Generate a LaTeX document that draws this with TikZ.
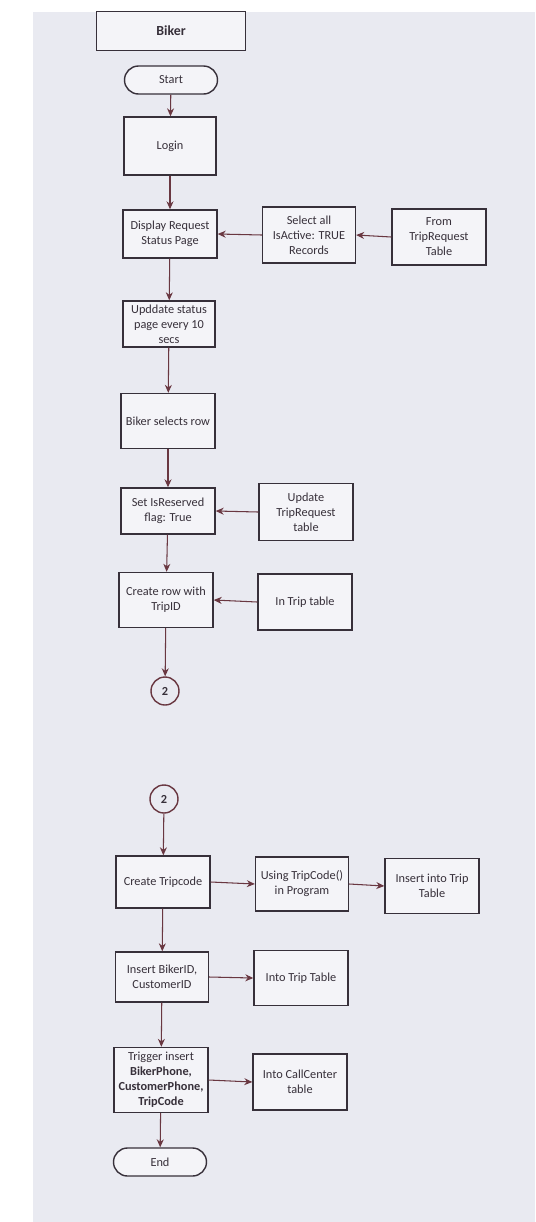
\documentclass[tikz,border=0pt]{standalone}
\usepackage{fontspec}
\setmainfont{Carlito}
\usepackage{xcolor}
\usetikzlibrary{arrows.meta, positioning, shapes.geometric, calc}
\definecolor{paper}{RGB}{233, 234, 241}
\definecolor{inkdark}{RGB}{55, 48, 58}
\definecolor{inkred}{RGB}{105, 55, 65}

\begin{document}
\begin{tikzpicture}[
  every node/.style={font=\fontsize{7}{8.5}\selectfont, text=inkdark},
  box/.style={
    draw=inkdark, fill=paper!50!white, line width=0.8pt,
    minimum width=1.88cm, minimum height=1.1cm,
    align=center, inner sep=1pt
  },
  term/.style={
    draw=inkdark, fill=paper!50!white, line width=0.8pt,
    minimum width=1.86cm, minimum height=0.56cm,
    rounded corners=0.28cm, align=center, inner sep=1pt
  },
  conn/.style={
    circle, draw=inkred, line width=0.8pt, minimum size=0.56cm,
    inner sep=0pt, font=\fontsize{7}{8.5}\selectfont\bfseries
  },
  arrow/.style={-{Stealth[length=1.6mm, width=1.4mm]}, line width=0.6pt, color=inkred}
]

  % Foglio
  \useasboundingbox (0,0) rectangle (10.7,-24.44);
  \fill[paper] (0.66,-0.24) rectangle (10.7,-24.44);

  % Prima pagina - colonna principale
  \node[box, minimum width=2.98cm, minimum height=0.78cm, font=\fontsize{7.9}{9}\selectfont\bfseries] (biker) at (3.42,-0.62) {Biker};
  \node[term] (start) at (3.42,-1.60) {Start};
  \node[box, minimum width=1.84cm, minimum height=1.16cm] (login) at (3.40,-2.92) {Login};
  \node[box, minimum height=0.96cm] (disp) at (3.40,-4.68) {Display Request\\Status Page};
  \node[box, minimum width=1.84cm, minimum height=0.92cm] (upd) at (3.38,-6.48) {Upddate status\\page every 10\\secs};
  \node[box] (row) at (3.36,-8.42) {Biker selects row};
  \node[box, minimum height=0.92cm] (res) at (3.36,-10.22) {Set IsReserved\\flag: True};
  \node[box] (crow) at (3.32,-12.00) {Create row with\\TripID};
  \node[conn] (twoa) at (3.30,-13.82) {2};

  % Prima pagina - tabelle
  \node[box, minimum width=1.86cm, minimum height=1.12cm] (sel) at (6.18,-4.70) {Select all\\IsActive: TRUE\\Records};
  \node[box, minimum height=1.12cm] (from) at (8.78,-4.74) {From\\TripRequest\\Table};
  \node[box, minimum height=1.14cm] (updtr) at (6.12,-10.24) {Update\\TripRequest\\table};
  \node[box, minimum height=1.12cm] (intrip) at (6.10,-12.04) {In Trip table};

  % Seconda pagina
  \node[conn] (twob) at (3.28,-15.98) {2};
  \node[box, minimum height=1.04cm] (tcode) at (3.26,-17.64) {Create Tripcode};
  \node[box, minimum width=1.86cm, minimum height=1.08cm] (using) at (6.04,-17.68) {Using TripCode()\\in Program};
  \node[box] (ins) at (8.64,-17.72) {Insert into Trip\\Table};
  \node[box, minimum width=1.86cm, minimum height=1.00cm] (bid) at (3.24,-19.54) {Insert BikerID,\\CustomerID};
  \node[box] (intrip2) at (6.02,-19.56) {Into Trip Table};
  \node[box, minimum height=1.30cm] (trig) at (3.22,-21.60) {Trigger insert\\\textbf{BikerPhone,}\\\textbf{CustomerPhone,}\\\textbf{TripCode}};
  \node[box, minimum height=1.12cm] (callc) at (6.00,-21.64) {Into CallCenter\\table};
  \node[term] (end) at (3.20,-23.24) {End};

  % Frecce
  \draw[arrow] (start) -- (login);
  \draw[arrow] (login) -- (disp);
  \draw[arrow] (from.west) -- (sel.east);
  \draw[arrow] (sel.west) -- (disp.east);
  \draw[arrow] (disp) -- (upd);
  \draw[arrow] (upd) -- (row);
  \draw[arrow] (row) -- (res);
  \draw[arrow] (updtr.west) -- (res.east);
  \draw[arrow] (res) -- (crow);
  \draw[arrow] (intrip.west) -- (crow.east);
  \draw[arrow] (crow) -- (twoa);

  \draw[arrow] (twob) -- (tcode);
  \draw[arrow] (tcode.east) -- (using.west);
  \draw[arrow] (using.east) -- (ins.west);
  \draw[arrow] (tcode) -- (bid);
  \draw[arrow] (bid.east) -- (intrip2.west);
  \draw[arrow] (bid) -- (trig);
  \draw[arrow] (trig.east) -- (callc.west);
  \draw[arrow] (trig) -- (end);

\end{tikzpicture}
\end{document}
